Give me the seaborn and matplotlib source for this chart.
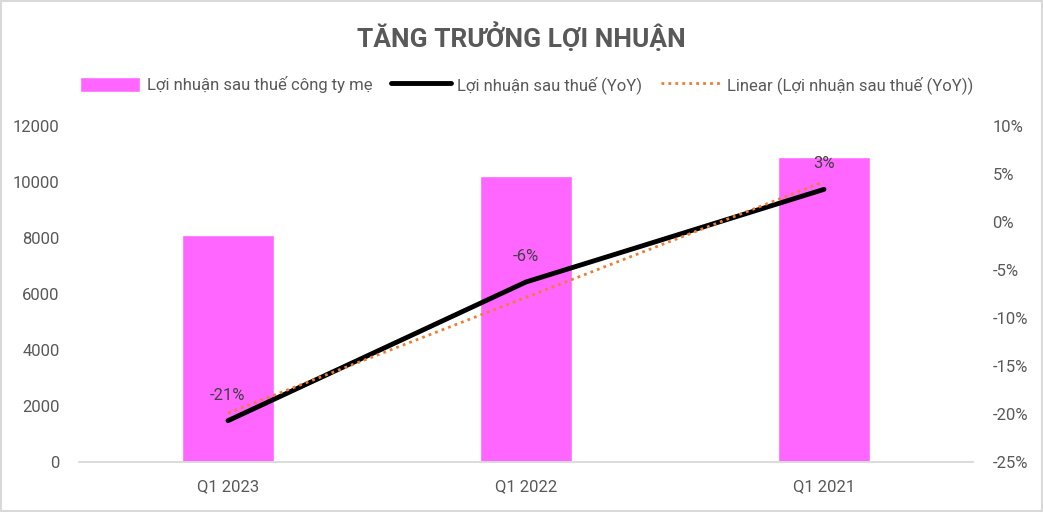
import matplotlib
matplotlib.use("Agg")
import matplotlib.pyplot as plt
import numpy as np
import pandas as pd
import seaborn as sns
from matplotlib.lines import Line2D
from matplotlib.patches import Patch, Rectangle

# data
quarters = ["Q1 2023", "Q1 2022", "Q1 2021"]
profit_parent = [8110, 10210, 10890]   # Lợi nhuận sau thuế công ty mẹ
profit_yoy = [-20.7, -6.25, 3.4]       # Lợi nhuận sau thuế (YoY), %
yoy_labels = ["-21%", "-6%", "3%"]

sns.set_theme(style="white")
plt.rcParams['font.family'] = ['Roboto', 'DejaVu Sans']
grey_txt = "#595959"

df = pd.DataFrame({"quarter": quarters, "profit": profit_parent, "yoy": profit_yoy})
df["pos"] = np.arange(len(df))

fig = plt.figure(figsize=(10.43, 5.12), dpi=100)
ax = fig.add_axes([0.0757, 0.0977, 0.8572, 0.6562])

sns.barplot(data=df, x="quarter", y="profit", color="#ff66ff", saturation=1,
            width=0.31, ax=ax)
ax.set_xlim(-0.5, 2.5)
ax.set_ylim(0, 12000)
ax.set_yticks(range(0, 12001, 2000))
ax.set_xlabel("")
ax.set_ylabel("")
ax.tick_params(axis="both", colors=grey_txt, labelsize=12, length=0)
ax.tick_params(axis="y", pad=14)
ax.tick_params(axis="x", pad=12)
for s in ["top", "left", "right"]:
    ax.spines[s].set_visible(False)
ax.spines["bottom"].set_color("#d9d9d9")
ax.spines["bottom"].set_linewidth(1.3)

ax2 = ax.twinx()
sns.lineplot(data=df, x="pos", y="yoy", color="black", linewidth=3.5,
             solid_capstyle="round", sort=False, ax=ax2)
# linear trend line
slope, icpt = np.polyfit(df["pos"], df["yoy"], 1)
ax2.plot(df["pos"], slope * df["pos"] + icpt, color="#ed7d31", linestyle=(0, (1, 1.5)),
         linewidth=2)
for p, v, lab in zip(df["pos"], df["yoy"], yoy_labels):
    ax2.annotate(lab, (p, v), xytext=(0, 13), textcoords="offset points",
                 ha="center", va="bottom", fontsize=12, color="#404040")
ax2.set_ylim(-25, 10)
ax2.set_yticks(range(-25, 11, 5))
ax2.set_yticklabels([f"{t}%" for t in range(-25, 11, 5)])
ax2.set_xlabel("")
ax2.set_ylabel("")
ax2.tick_params(axis="y", colors=grey_txt, labelsize=12, length=0, pad=14)
for s in ax2.spines.values():
    s.set_visible(False)

fig.text(0.5, 0.928, "TĂNG TRƯỞNG LỢI NHUẬN", ha="center", va="center",
         fontsize=19, fontweight="bold", color=grey_txt)

handles = [
    Patch(facecolor="#ff66ff", label="Lợi nhuận sau thuế công ty mẹ"),
    Line2D([], [], color="black", linewidth=3.5, label="Lợi nhuận sau thuế (YoY)"),
    Line2D([], [], color="#ed7d31", linewidth=2, linestyle=(0, (1, 1.5)),
           label="Linear (Lợi nhuận sau thuế (YoY))"),
]
fig.legend(handles=handles, loc="center", bbox_to_anchor=(0.505, 0.834), ncol=3,
           frameon=False, fontsize=12, handlelength=3.6, handleheight=1.0,
           columnspacing=1.1, handletextpad=0.4, labelcolor=grey_txt)

fig.patches.append(Rectangle((0.001, 0.002), 0.998, 0.996, transform=fig.transFigure,
                             fill=False, edgecolor="#d9d9d9", linewidth=1.5))

fig.savefig("out.png", dpi=100)
